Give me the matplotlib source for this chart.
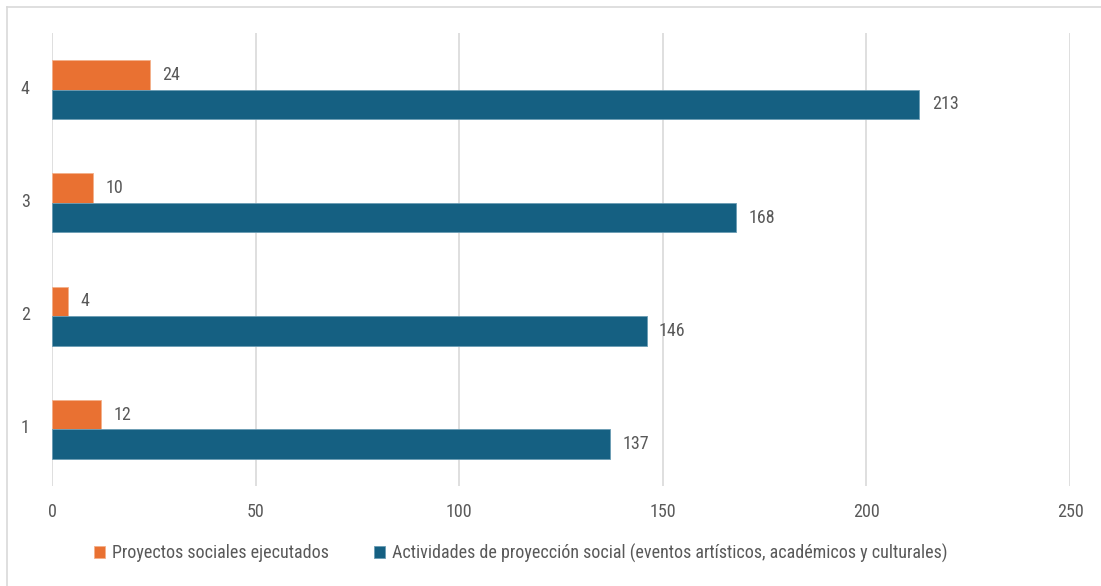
import matplotlib
matplotlib.use("Agg")
import matplotlib.pyplot as plt
from matplotlib.lines import Line2D
from matplotlib import font_manager as fm
import matplotlib.transforms as mtransforms
import numpy as np

categories = ["1", "2", "3", "4"]
proyectos = [12, 4, 10, 24]
actividades = [137, 146, 168, 213]
series_names = ["Proyectos sociales ejecutados",
                "Actividades de proyección social (eventos artísticos, académicos y culturales)"]
xticks = [0, 50, 100, 150, 200, 250]

names = {f.name for f in fm.fontManager.ttflist}
fam = "DejaVu Sans"
for cand in ["Arial Narrow", "Liberation Sans Narrow", "Roboto Condensed", "Archivo Narrow",
             "PT Sans Narrow", "Pragati Narrow", "IBM Plex Sans Condensed", "Open Sans Condensed"]:
    if cand in names:
        fam = cand
        break
plt.rcParams['font.family'] = [fam, 'DejaVu Sans']

orange = "#E97132"
blue = "#156082"
text_col = "#595959"
grid_col = "#D9D9D9"
fs = 13

W, H = 1101, 586
fig = plt.figure(figsize=(W / 100, H / 100), dpi=100)
ax = fig.add_axes([52 / W, 1 - 486 / H, (1070 - 52) / W, (486 - 33) / H])

y = np.arange(len(categories))
h = 0.26
ax.barh(y + h / 2, proyectos, height=h, color=orange, edgecolor="#F4B08A", linewidth=0.6, zorder=3,
        label=series_names[0])
ax.barh(y - h / 2, actividades, height=h, color=blue, edgecolor="#6A9CB4", linewidth=0.6, zorder=3,
        label=series_names[1])

for yi, v in zip(y, proyectos):
    ax.annotate(str(v), (v, yi + h / 2), xytext=(9, 0), textcoords="offset points",
                va="center", ha="left", fontsize=fs, color=text_col)
for yi, v in zip(y, actividades):
    ax.annotate(str(v), (v, yi - h / 2), xytext=(9, 0), textcoords="offset points",
                va="center", ha="left", fontsize=fs, color=text_col)

ax.set_xlim(0, 250)
ax.set_ylim(-0.5, 3.5)
ax.set_xticks(xticks)
ax.set_xticklabels([str(t) for t in xticks])
ax.set_yticks(y)
ax.set_yticklabels(categories)
ax.tick_params(axis="both", length=0, labelsize=fs, colors=text_col)
ax.tick_params(axis="x", pad=12)
ax.tick_params(axis="y", pad=16)
shift = mtransforms.ScaledTranslation(0, 3 / 100, fig.dpi_scale_trans)
for lab in ax.get_yticklabels():
    lab.set_transform(lab.get_transform() + shift)
ax.grid(axis="x", color=grid_col, linewidth=1.2, zorder=0)
for s in ax.spines.values():
    s.set_visible(False)

# outer border (top and left visible)
fig.add_artist(Line2D([7 / W, 7 / W], [0, 1 - 7 / H], transform=fig.transFigure, color="#D9D9D9", lw=1.2))
fig.add_artist(Line2D([7 / W, 1], [1 - 7 / H, 1 - 7 / H], transform=fig.transFigure, color="#D9D9D9", lw=1.2))

leg = fig.legend(loc="center", bbox_to_anchor=(0.473, 1 - 553 / H), ncol=2, frameon=False,
                 fontsize=fs, handlelength=0.6, handleheight=0.6, handletextpad=0.4,
                 columnspacing=2.5)
for t in leg.get_texts():
    t.set_color(text_col)

fig.savefig("out.png", dpi=100, facecolor="white")
